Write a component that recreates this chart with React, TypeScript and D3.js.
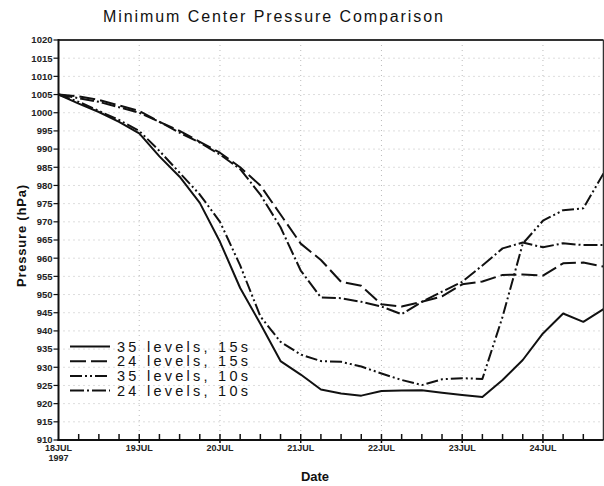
import React from "react";
import * as d3 from "d3";

const hours: number[] = d3.range(0, 163, 6); // 6-hourly from 18JUL00Z to 24JUL18Z
const s35_15: number[] = [1005, 1002.5, 1000.2, 997.5, 994.3, 988, 982.4, 975.2, 964.5, 951.8, 942, 931.7, 928, 923.9, 922.8, 922.2, 923.5, 923.6, 923.7, 923, 922.4, 921.8, 926.5, 932, 939.3, 944.8, 942.5, 946];
const s24_15: number[] = [1005, 1004.5, 1003.5, 1002, 1000.5, 997.5, 995, 992, 989, 985, 980, 972, 964, 959.5, 953.5, 952.4, 947.3, 946.7, 948, 949.5, 952.8, 953.6, 955.4, 955.5, 955.2, 958.6, 958.8, 957.7];
const s35_10: number[] = [1005, 1003, 1000.5, 998, 995, 989.5, 983.5, 977.5, 970, 958, 944, 937, 933.5, 931.7, 931.5, 930.2, 928.3, 926.5, 925.1, 926.7, 927, 926.8, 943.9, 964, 970.3, 973.2, 973.7, 983.3];
const s24_10: number[] = [1005, 1004, 1003, 1001.5, 1000, 997.5, 994.5, 991.8, 988.5, 984.5, 977.5, 968.5, 956.6, 949.2, 949, 948, 946.7, 944.6, 948, 950.8, 953.5, 958, 962.7, 964.3, 963, 964.1, 963.6, 963.6];

const seriesNames: string[] = ["35  levels,  15s", "24  levels,  15s", "35  levels,  10s", "24  levels,  10s"];
const seriesData: number[][] = [s35_15, s24_15, s35_10, s24_10];
const dashes: string[] = ["none", "16 5", "12 3 2 3 2 3", "14 3 2 3"];

const yTicks: number[] = d3.range(910, 1021, 5);
const dayTicks: number[] = [0, 24, 48, 72, 96, 120, 144];
const dayLabels: string[] = ["18JUL", "19JUL", "20JUL", "21JUL", "22JUL", "23JUL", "24JUL"];
const minorTicks: number[] = d3.range(0, 163, 6);

const W = 604, H = 486;
const L = 58.5, R = 603.5, T = 40, B = 440;

export default function App() {
  const x = d3.scaleLinear().domain([0, 162]).range([L, R]);
  const y = d3.scaleLinear().domain([910, 1020]).range([B, T]);
  const line = d3.line<number>().x((_, i) => x(hours[i])).y((d) => y(d));
  const font = "'Liberation Sans', Arial, sans-serif";
  return (
    <svg width={W} height={H} style={{ position: "absolute", left: 0, top: 0, background: "#fff" }} fontFamily={font}>
      <defs>
        <clipPath id="plot"><rect x={L} y={T} width={R - L} height={B - T} /></clipPath>
      </defs>
      <text x={103} y={22} fontSize={16} textLength={340} lengthAdjust="spacing" fill="#111">Minimum Center Pressure Comparison</text>
      {/* grid */}
      {yTicks.filter((v) => v > 910 && v < 1020).map((v) => (
        <line key={"gy" + v} x1={L} x2={R} y1={y(v)} y2={y(v)} stroke="#bbb" strokeWidth={1} strokeDasharray="1 4" />
      ))}
      {dayTicks.filter((h) => h > 0).map((h) => (
        <line key={"gx" + h} x1={x(h)} x2={x(h)} y1={T} y2={B} stroke="#bbb" strokeWidth={1} strokeDasharray="1 4" />
      ))}
      {/* series */}
      <g clipPath="url(#plot)">
        {seriesData.map((s, i) => (
          <path key={"s" + i} d={line(s) || ""} fill="none" stroke="#111" strokeWidth={2} strokeDasharray={dashes[i]} strokeLinejoin="round" />
        ))}
      </g>
      {/* frame */}
      <line x1={L} x2={R} y1={T} y2={T} stroke="#333" strokeWidth={2} />
      <line x1={R} x2={R} y1={T} y2={B} stroke="#333" strokeWidth={1.5} />
      <line x1={L} x2={L} y1={T - 1} y2={B + 1} stroke="#111" strokeWidth={2} />
      <line x1={L - 1} x2={R} y1={B} y2={B} stroke="#111" strokeWidth={2} />
      {/* y ticks */}
      {yTicks.map((v) => (
        <g key={"yt" + v}>
          <line x1={L - 5} x2={L} y1={y(v)} y2={y(v)} stroke="#111" strokeWidth={1.2} />
          <text x={L - 6} y={y(v)} dy="0.35em" fontSize={9.5} textAnchor="end" fontWeight="bold" fill="#222">{v}</text>
        </g>
      ))}
      {/* x ticks */}
      {minorTicks.filter((h) => h > 0 && h < 162).map((h) => (
        <line key={"mt" + h} x1={x(h)} x2={x(h)} y1={B - 6} y2={h % 24 === 0 ? B + 3 : B} stroke="#111" strokeWidth={1.5} />
      ))}
      {dayTicks.map((h, i) => (
        <text key={"xl" + h} x={x(h)} y={B + 11} fontSize={9} textAnchor="middle" fontWeight="bold" fill="#222">{dayLabels[i]}</text>
      ))}
      <text x={x(0)} y={B + 21} fontSize={9} textAnchor="middle" fontWeight="bold" fill="#222">1997</text>
      <text x={315} y={481} fontSize={13} textAnchor="middle" fontWeight="bold" fill="#111">Date</text>
      <text transform="translate(26,236) rotate(-90)" fontSize={13} textAnchor="middle" fontWeight="bold" fill="#111" textLength={102} lengthAdjust="spacing">Pressure (hPa)</text>
      {/* legend */}
      {seriesNames.map((n, i) => {
        const yy = 346.5 + i * 14.7;
        return (
          <g key={"lg" + i}>
            <line x1={70} x2={110} y1={yy} y2={yy} stroke="#111" strokeWidth={2} strokeDasharray={dashes[i]} />
            <text x={117} y={yy + 5} fontSize={14.5} textLength={131} lengthAdjust="spacing" fill="#111">{n}</text>
          </g>
        );
      })}
    </svg>
  );
}
